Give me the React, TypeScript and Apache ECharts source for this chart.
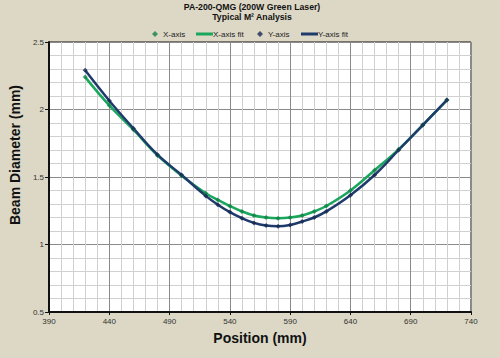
import React, { useEffect, useRef } from "react";
import * as echarts from "echarts";

const positions = [420, 440, 460, 480, 500, 520, 530, 540, 550, 560, 570, 580, 590, 600, 610, 620, 640, 660, 680, 700, 720];
const xAxisBeam = [2.24, 2.03, 1.85, 1.66, 1.51, 1.38, 1.33, 1.285, 1.245, 1.215, 1.2, 1.195, 1.2, 1.215, 1.245, 1.285, 1.4, 1.55, 1.705, 1.885, 2.07];
const yAxisBeam = [2.29, 2.065, 1.86, 1.665, 1.515, 1.36, 1.295, 1.24, 1.195, 1.16, 1.14, 1.135, 1.145, 1.17, 1.2, 1.245, 1.365, 1.515, 1.7, 1.885, 2.07];
const seriesNames = ["X-axis", "X-axis fit", "Y-axis", "Y-axis fit"];
const titleLines = ["PA-200-QMG (200W Green Laser)", "Typical M² Analysis"];

const GREEN = "#1aa65c";
const GREEN_DARK = "#128248";
const BLUE = "#1f3b6c";
const BLUE_DARK = "#172c52";
const FONT = "'Liberation Sans', Arial, sans-serif";

export default function App() {
  const ref = useRef<HTMLDivElement>(null);
  useEffect(() => {
    if (!ref.current) return;
    const chart = echarts.init(ref.current, null, { renderer: "svg" });
    const xPairs = positions.map((p, i) => [p, xAxisBeam[i]]);
    const yPairs = positions.map((p, i) => [p, yAxisBeam[i]]);
    const legendText = { fontSize: 8, color: "#222", fontFamily: FONT };
    const markerLegend = (name: string, left: number) => ({
      top: 30,
      left,
      padding: 0,
      itemWidth: 6,
      itemHeight: 6,
      textStyle: { ...legendText, padding: [0, 0, 0, 0] },
      data: [{ name, icon: "diamond" }],
    });
    const lineLegend = (name: string, left: number) => ({
      top: 30,
      left,
      padding: 0,
      itemWidth: 17,
      itemHeight: 3,
      textStyle: { ...legendText, padding: [0, 0, 0, -5] },
      data: [{ name, icon: "rect" }],
    });
    chart.setOption({
      animation: false,
      backgroundColor: "#dcd8c5",
      textStyle: { fontFamily: FONT },
      title: {
        text: titleLines.join("\n"),
        left: 247,
        textAlign: "center",
        top: -3,
        textStyle: { fontSize: 8.7, fontWeight: "bold", color: "#111", lineHeight: 10, fontFamily: FONT },
      },
      legend: [
        markerLegend(seriesNames[0], 152),
        lineLegend(seriesNames[1], 196),
        markerLegend(seriesNames[2], 257),
        lineLegend(seriesNames[3], 301),
      ],
      grid: {
        left: 42,
        right: 29,
        top: 42,
        bottom: 46,
        show: true,
        backgroundColor: "#ffffff",
        borderColor: "#111",
        borderWidth: 1,
      },
      xAxis: {
        type: "value",
        min: 390,
        max: 740,
        interval: 50,
        name: "Position (mm)",
        nameLocation: "middle",
        nameGap: 19,
        nameTextStyle: { fontSize: 14, fontWeight: "bold", color: "#111", fontFamily: FONT },
        axisLine: { lineStyle: { color: "#111", width: 2 } },
        axisTick: { show: true, length: 3, lineStyle: { color: "#111" } },
        axisLabel: { fontSize: 8, color: "#333", margin: 5 },
        splitLine: { show: true, lineStyle: { color: "#8a8a8a", width: 1 } },
        minorTick: { show: false, splitNumber: 5 },
        minorSplitLine: { show: true, lineStyle: { color: "#d0d0d0", width: 1 } },
      },
      yAxis: {
        type: "value",
        min: 0.5,
        max: 2.5,
        interval: 0.5,
        name: "Beam Diameter (mm)",
        nameLocation: "middle",
        nameGap: 21,
        nameTextStyle: { fontSize: 14, fontWeight: "bold", color: "#111", fontFamily: FONT, padding: [0, 0, 0, 44] },
        axisLine: { show: true, lineStyle: { color: "#111", width: 2 } },
        axisTick: { show: true, length: 4, lineStyle: { color: "#111" } },
        axisLabel: { fontSize: 8, color: "#333", margin: 5 },
        splitLine: { show: true, lineStyle: { color: "#8a8a8a", width: 1 } },
        minorTick: { show: false, splitNumber: 5 },
        minorSplitLine: { show: true, lineStyle: { color: "#d0d0d0", width: 1 } },
      },
      series: [
        {
          name: seriesNames[0],
          type: "scatter",
          symbol: "diamond",
          symbolSize: 5,
          itemStyle: { color: GREEN_DARK },
          data: xPairs,
          z: 4,
        },
        {
          name: seriesNames[1],
          type: "line",
          smooth: 0.4,
          showSymbol: false,
          symbol: "none",
          lineStyle: { color: GREEN, width: 2.5 },
          itemStyle: { color: GREEN },
          data: xPairs,
          z: 3,
        },
        {
          name: seriesNames[2],
          type: "scatter",
          symbol: "diamond",
          symbolSize: 5,
          itemStyle: { color: BLUE_DARK },
          data: yPairs,
          z: 4,
        },
        {
          name: seriesNames[3],
          type: "line",
          smooth: 0.4,
          showSymbol: false,
          symbol: "none",
          lineStyle: { color: BLUE, width: 2.5 },
          itemStyle: { color: BLUE },
          data: yPairs,
          z: 3,
        },
      ],
    });
    return () => chart.dispose();
  }, []);
  return <div ref={ref} style={{ width: 500, height: 358, position: "absolute", left: 0, top: 0 }} />;
}
